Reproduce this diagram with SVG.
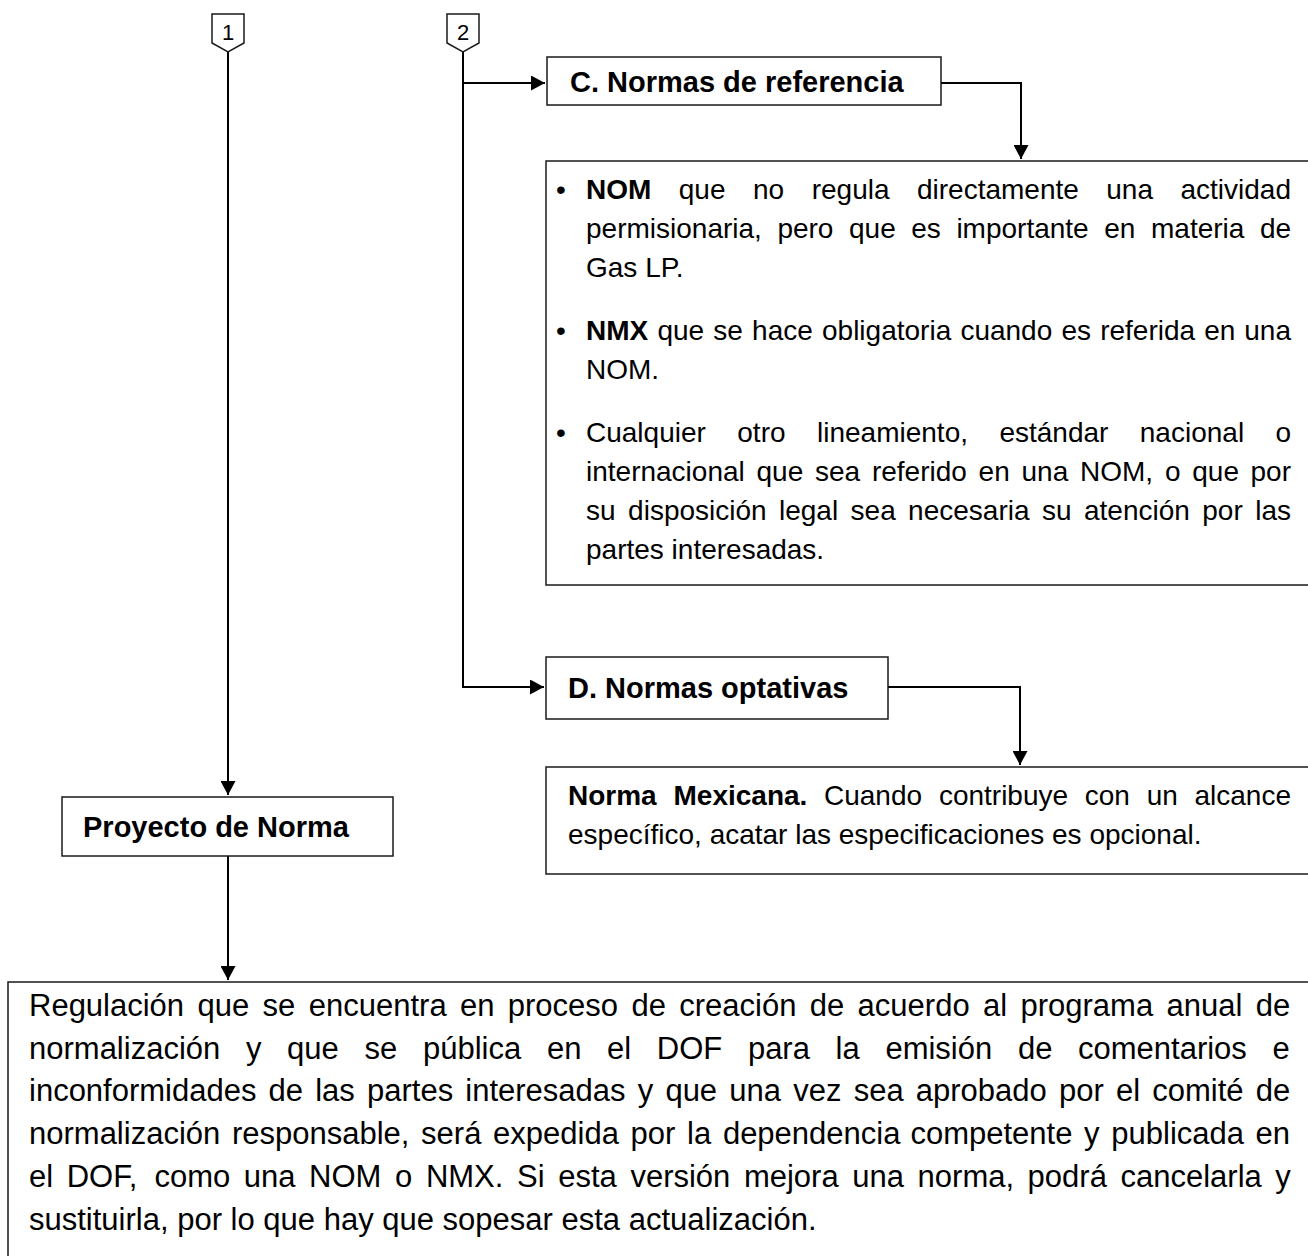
<svg xmlns="http://www.w3.org/2000/svg" width="1308" height="1256" viewBox="0 0 1308 1256">
  <style>
    .box { fill: #ffffff; stroke: #1a1a1a; stroke-width: 1.5; }
    .wire { fill: none; stroke: #000000; stroke-width: 2; }
    .t { font-family: "Liberation Sans", Arial, sans-serif; font-size: 28px; fill: #000000; }
    .lbl { font-weight: bold; font-size: 29px; }
    .b { font-weight: bold; }
    .big { font-size: 31px; }
    .num { font-size: 22px; }
  </style>
  <defs>
    <marker id="arrow" markerUnits="userSpaceOnUse" markerWidth="14" markerHeight="15" refX="14" refY="7.5" orient="auto">
      <path d="M0,0 L14,7.5 L0,15 z" fill="#000000"/>
    </marker>
  </defs>

  <rect width="1308" height="1256" fill="#ffffff"/>

  <!-- connectors -->
  <g id="connectors">
    <path class="wire" d="M228,52 V795" marker-end="url(#arrow)"/>
    <path class="wire" d="M228,856 V980" marker-end="url(#arrow)"/>
    <path class="wire" d="M463,52 V687 H544" marker-end="url(#arrow)"/>
    <path class="wire" d="M463,83 H545" marker-end="url(#arrow)"/>
    <path class="wire" d="M941,83 H1021 V159" marker-end="url(#arrow)"/>
    <path class="wire" d="M888,687 H1020 V765" marker-end="url(#arrow)"/>
  </g>

  <!-- off-page tags -->
  <g id="tag-1">
    <path class="box" d="M212,14 H244 V43 L228,52 L212,43 Z"/>
    <text class="t num" x="228" y="40" text-anchor="middle">1</text>
  </g>
  <g id="tag-2">
    <path class="box" d="M447,14 H479 V43 L463,52 L447,43 Z"/>
    <text class="t num" x="463" y="40" text-anchor="middle">2</text>
  </g>

  <!-- C. Normas de referencia -->
  <g id="node-c">
    <rect class="box" x="547" y="57" width="394" height="48"/>
    <text class="t lbl" x="570" y="92">C. Normas de referencia</text>
  </g>
  <g id="node-c-detail">
    <rect class="box" x="546" y="161" width="780" height="424"/>
    <text class="t" y="199">
      <tspan x="556">•</tspan>
      <tspan x="586" class="b">NOM</tspan>
      <tspan x="678.8">que</tspan>
      <tspan x="753.0">no</tspan>
      <tspan x="811.7">regula</tspan>
      <tspan x="917.0">directamente</tspan>
      <tspan x="1106.3">una</tspan>
      <tspan x="1180.5">actividad</tspan>
    </text>
    <text class="t" y="238">
      <tspan x="586">permisionaria,</tspan>
      <tspan x="777.4">pero</tspan>
      <tspan x="849.0">que</tspan>
      <tspan x="911.2">es</tspan>
      <tspan x="956.4">importante</tspan>
      <tspan x="1104.3">en</tspan>
      <tspan x="1151.0">materia</tspan>
      <tspan x="1259.9">de</tspan>
    </text>
    <text class="t" x="586" y="277">Gas LP.</text>
    <text class="t" y="340">
      <tspan x="556">•</tspan>
      <tspan x="586" class="b">NMX</tspan>
      <tspan x="657.4">que</tspan>
      <tspan x="713.3">se</tspan>
      <tspan x="752.1">hace</tspan>
      <tspan x="822.0">obligatoria</tspan>
      <tspan x="960.4">cuando</tspan>
      <tspan x="1061.4">es</tspan>
      <tspan x="1100.2">referida</tspan>
      <tspan x="1204.3">en</tspan>
      <tspan x="1244.3">una</tspan>
    </text>
    <text class="t" x="586" y="379">NOM.</text>
    <text class="t" y="442">
      <tspan x="556">•</tspan>
      <tspan x="586">Cualquier</tspan>
      <tspan x="737.3">otro</tspan>
      <tspan x="817.0">lineamiento,</tspan>
      <tspan x="999.4">estándar</tspan>
      <tspan x="1139.8">nacional</tspan>
      <tspan x="1275.4">o</tspan>
    </text>
    <text class="t" y="481">
      <tspan x="586">internacional</tspan>
      <tspan x="756.5">que</tspan>
      <tspan x="815.0">sea</tspan>
      <tspan x="871.9">referido</tspan>
      <tspan x="978.6">en</tspan>
      <tspan x="1021.5">una</tspan>
      <tspan x="1080.0">NOM,</tspan>
      <tspan x="1164.9">o</tspan>
      <tspan x="1192.3">que</tspan>
      <tspan x="1250.5">por</tspan>
    </text>
    <text class="t" y="520">
      <tspan x="586">su</tspan>
      <tspan x="628.1">disposición</tspan>
      <tspan x="779.0">legal</tspan>
      <tspan x="850.6">sea</tspan>
      <tspan x="908.1">necesaria</tspan>
      <tspan x="1042.0">su</tspan>
      <tspan x="1084.0">atención</tspan>
      <tspan x="1202.3">por</tspan>
      <tspan x="1255.2">las</tspan>
    </text>
    <text class="t" x="586" y="559">partes interesadas.</text>
  </g>

  <!-- D. Normas optativas -->
  <g id="node-d">
    <rect class="box" x="546" y="657" width="342" height="62"/>
    <text class="t lbl" x="568" y="698">D. Normas optativas</text>
  </g>
  <g id="node-d-detail">
    <rect class="box" x="546" y="767" width="780" height="107"/>
    <text class="t" y="805">
      <tspan x="568" class="b">Norma</tspan>
      <tspan x="673.5" class="b">Mexicana.</tspan>
      <tspan x="824.0">Cuando</tspan>
      <tspan x="938.9">contribuye</tspan>
      <tspan x="1084.8">con</tspan>
      <tspan x="1146.7">un</tspan>
      <tspan x="1194.5">alcance</tspan>
    </text>
    <text class="t" x="568" y="844">específico, acatar las especificaciones es opcional.</text>
  </g>

  <!-- Proyecto de Norma -->
  <g id="node-proyecto">
    <rect class="box" x="62" y="797" width="331" height="59"/>
    <text class="t lbl" x="83" y="837">Proyecto de Norma</text>
  </g>
  <g id="node-proyecto-detail">
    <rect class="box" x="8" y="982" width="1320" height="300"/>
    <text class="t big" y="1016">
      <tspan x="29">Regulación</tspan>
      <tspan x="197.5">que</tspan>
      <tspan x="262.6">se</tspan>
      <tspan x="308.8">encuentra</tspan>
      <tspan x="460.0">en</tspan>
      <tspan x="507.8">proceso</tspan>
      <tspan x="631.5">de</tspan>
      <tspan x="679.3">creación</tspan>
      <tspan x="809.8">de</tspan>
      <tspan x="857.6">acuerdo</tspan>
      <tspan x="983.0">al</tspan>
      <tspan x="1020.5">programa</tspan>
      <tspan x="1166.5">anual</tspan>
      <tspan x="1255.7">de</tspan>
    </text>
    <text class="t big" y="1059">
      <tspan x="29">normalización</tspan>
      <tspan x="245.9">y</tspan>
      <tspan x="287.1">que</tspan>
      <tspan x="364.5">se</tspan>
      <tspan x="423.0">pública</tspan>
      <tspan x="546.9">en</tspan>
      <tspan x="607.0">el</tspan>
      <tspan x="656.8">DOF</tspan>
      <tspan x="747.9">para</tspan>
      <tspan x="835.6">la</tspan>
      <tspan x="885.4">emisión</tspan>
      <tspan x="1017.9">de</tspan>
      <tspan x="1078.0">comentarios</tspan>
      <tspan x="1272.5">e</tspan>
    </text>
    <text class="t big" y="1101">
      <tspan x="29">inconformidades</tspan>
      <tspan x="268.6">de</tspan>
      <tspan x="315.2">las</tspan>
      <tspan x="367.0">partes</tspan>
      <tspan x="465.3">interesadas</tspan>
      <tspan x="637.7">y</tspan>
      <tspan x="665.4">que</tspan>
      <tspan x="729.3">una</tspan>
      <tspan x="793.2">vez</tspan>
      <tspan x="853.7">sea</tspan>
      <tspan x="915.8">aprobado</tspan>
      <tspan x="1059.0">por</tspan>
      <tspan x="1116.0">el</tspan>
      <tspan x="1152.3">comité</tspan>
      <tspan x="1255.8">de</tspan>
    </text>
    <text class="t big" y="1144">
      <tspan x="29">normalización</tspan>
      <tspan x="231.9">responsable,</tspan>
      <tspan x="421.1">será</tspan>
      <tspan x="493.1">expedida</tspan>
      <tspan x="630.6">por</tspan>
      <tspan x="687.1">la</tspan>
      <tspan x="722.9">dependencia</tspan>
      <tspan x="910.4">competente</tspan>
      <tspan x="1084.1">y</tspan>
      <tspan x="1111.3">publicada</tspan>
      <tspan x="1255.6">en</tspan>
    </text>
    <text class="t big" y="1187">
      <tspan x="29">el</tspan>
      <tspan x="66.7">DOF,</tspan>
      <tspan x="154.4">como</tspan>
      <tspan x="243.8">una</tspan>
      <tspan x="309.1">NOM</tspan>
      <tspan x="395.0">o</tspan>
      <tspan x="425.9">NMX.</tspan>
      <tspan x="517.0">Si</tspan>
      <tspan x="558.2">esta</tspan>
      <tspan x="630.4">versión</tspan>
      <tspan x="743.9">mejora</tspan>
      <tspan x="852.3">una</tspan>
      <tspan x="917.6">norma,</tspan>
      <tspan x="1027.6">podrá</tspan>
      <tspan x="1120.5">cancelarla</tspan>
      <tspan x="1275.3">y</tspan>
    </text>
    <text class="t big" x="29" y="1230">sustituirla, por lo que hay que sopesar esta actualización.</text>
  </g>
</svg>
